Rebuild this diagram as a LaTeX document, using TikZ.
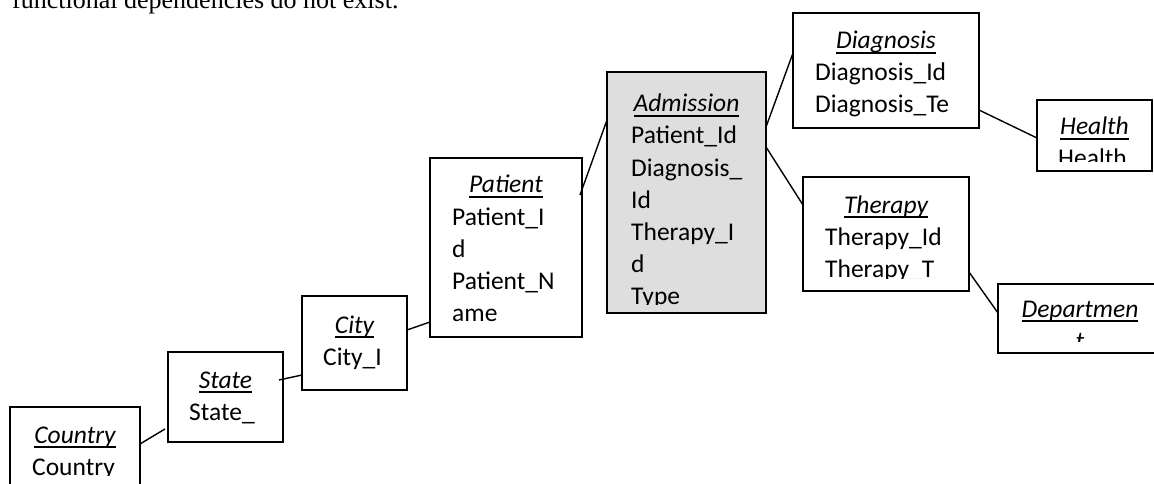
\documentclass[tikz,border=0pt]{standalone}
\usepackage{fontspec}
\setmainfont{Carlito}
\newfontfamily\timesfont{Liberation Serif}
\newsavebox\myhbox
\newcommand\myhead[1]{\sbox\myhbox{\itshape #1}\rlap{\usebox\myhbox}\rule[-5pt]{\wd\myhbox}{1.8pt}}
\definecolor{admgray}{HTML}{DEDEDE}
\tikzset{
  ent/.style={draw=black, line width=1.5pt, inner sep=0pt, outer sep=0pt},
  hd/.style={anchor=base, inner sep=0pt, font=\fontsize{25.5}{32}\selectfont},
  bd/.style={anchor=base west, inner sep=0pt, font=\fontsize{25.5}{32}\selectfont},
  link/.style={line width=1.4pt}
}
\begin{document}
\begin{tikzpicture}[x=1pt,y=-1pt]
\useasboundingbox (0,0) rectangle (1154,484);
\node[anchor=base west, inner sep=0pt, font=\timesfont\fontsize{26}{30}\selectfont] (toptext) at (12,9) {functional dependencies do not exist.};

% boxes
\node[ent, minimum width=130pt, minimum height=88pt] (country) at (75,451) {};
\node[ent, minimum width=115pt, minimum height=90pt] (state) at (225.5,397) {};
\node[ent, minimum width=105pt, minimum height=94pt] (city) at (354.5,343) {};
\node[ent, minimum width=152pt, minimum height=179pt] (patient) at (506,247.5) {};
\node[ent, fill=admgray, minimum width=159pt, minimum height=241pt] (admission) at (686.5,192.5) {};
\node[ent, minimum width=186pt, minimum height=115pt] (diagnosis) at (886,70.5) {};
\node[ent, minimum width=115pt, minimum height=71pt] (health) at (1094.5,135.5) {};
\node[ent, minimum width=166pt, minimum height=114pt] (therapy) at (886,234) {};
\node[ent, minimum width=164pt, minimum height=69pt] (department) at (1080,318.5) {};

% texts
\begin{scope}
\clip (11,408) rectangle (139,475.5);
\node[hd] (countryh) at (75,443) {\myhead{Country}};
\node[bd] (countryb) at (32,475) {Country};
\end{scope}
\begin{scope}
\clip (169,353) rectangle (282,437);
\node[hd] (stateh) at (225.5,388) {\myhead{State}};
\node[bd] (stateb) at (189,420) {State\_};
\end{scope}
\begin{scope}
\clip (303,297) rectangle (406,386);
\node[hd] (cityh) at (354.5,333) {\myhead{City}};
\node[bd] (cityb) at (323,365) {City\_I};
\end{scope}
\begin{scope}
\clip (431,159) rectangle (581,332);
\node[hd] (patienth) at (506,193) {\myhead{Patient}};
\node[bd] (patientb1) at (452,225) {Patient\_I};
\node[bd] (patientb2) at (452,257) {d};
\node[bd] (patientb3) at (452,289) {Patient\_N};
\node[bd] (patientb4) at (452,321) {ame};
\end{scope}
\begin{scope}
\clip (608,73) rectangle (765,304);
\node[hd] (admissionh) at (686.5,112) {\myhead{Admission}};
\node[bd] (admissionb1) at (631,144) {Patient\_Id};
\node[bd] (admissionb2) at (631,176) {Diagnosis\_};
\node[bd] (admissionb3) at (631,208) {Id};
\node[bd] (admissionb4) at (631,240) {Therapy\_I};
\node[bd] (admissionb5) at (631,272) {d};
\node[bd] (admissionb6) at (631,304) {Type};
\end{scope}
\begin{scope}
\clip (794,14) rectangle (978,124);
\node[hd] (diagnosish) at (886,49) {\myhead{Diagnosis}};
\node[bd] (diagnosisb1) at (815,81) {Diagnosis\_Id};
\node[bd] (diagnosisb2) at (815,113) {Diagnosis\_Te};
\end{scope}
\begin{scope}
\clip (1038,101) rectangle (1151,162);
\node[hd] (healthh) at (1094.5,135) {\myhead{Health}};
\node[bd] (healthb) at (1058,167) {Health};
\end{scope}
\begin{scope}
\clip (804,178) rectangle (968,278.5);
\node[hd] (therapyh) at (886,213) {\myhead{Therapy}};
\node[bd] (therapyb1) at (825,245) {Therapy\_Id};
\node[bd] (therapyb2) at (825,277) {Therapy\_T};
\end{scope}
\begin{scope}
\clip (999,285) rectangle (1154,341);
\node[hd] (departmenth) at (1080,317) {\myhead{Departmen}};
\node[hd] (departmentb) at (1080,349) {\itshape t};
\end{scope}

% connectors
\draw[link] ([yshift=-37pt]country.north east) -- ([xshift=-3pt,yshift=-77pt]state.north west);
\draw[link] ([xshift=-4pt,yshift=-28pt]state.north east) -- ([yshift=-79pt]city.north west);
\draw[link] ([yshift=-34pt]city.north east) -- ([yshift=-164pt]patient.north west);
\draw[link] ([xshift=-2pt,yshift=-37pt]patient.north east) -- ([yshift=-48pt]admission.north west);
\draw[link] ([yshift=-55pt]admission.north east) -- ([yshift=-40pt]diagnosis.north west);
\draw[link] ([yshift=-75pt]admission.north east) -- ([yshift=-28pt]therapy.north west);
\draw[link] ([yshift=-97pt]diagnosis.north east) -- ([yshift=-38pt]health.north west);
\draw[link] ([yshift=-95pt]therapy.north east) -- ([yshift=-29pt]department.north west);
\end{tikzpicture}
\end{document}
